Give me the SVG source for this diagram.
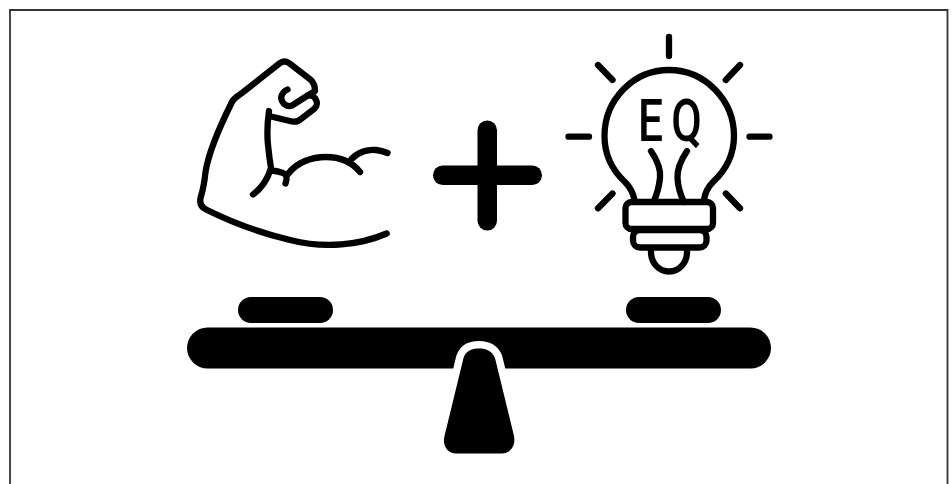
<svg xmlns="http://www.w3.org/2000/svg" width="952" height="484" viewBox="0 0 952 484">
<style>
.l{fill:none;stroke:#000;stroke-width:6.300;stroke-linecap:round;stroke-linejoin:round}
.b{fill:#000}
</style>
<rect width="952" height="484" fill="#fff"/>
<path d="M10 484V10H947.500V484" fill="none" stroke="#333" stroke-width="1.800"/>
<g id="arm" class="l">
<path d="M386.700 233.500C360 245 325 249 290 240C265 234 235 224 206 209.500C201 207 199.500 203 200.500 198C203 190 204.500 182 205.500 172C209 150 222 122 232 102C234 98 238 96 242 93L280 63C283 61 286 61 289 63L311 80C314 83 315 86 315 91L308 95.500C312 95 315 97 316 100C318 104 317 106 314 109L301 119C298 122 295 122 292 121.500L269 116"/>
<path d="M287.500 89.500C282 92 280 97 282 101C284 105 288 107 292 105.500L308.500 95"/>
<path d="M269 111C267 125 267 135 268 145C269 155 270 162 271 168C268 178 262 188 253 194.500"/>
<path d="M271 170.500C277 171 281 172 284 173.500C287 175 287 179 285.500 183.500"/>
<path d="M288 174C297 162 312 157 326 157C340 157 352 162 360 172"/>
<path d="M351.500 159C358 152 368 149 376 150C380 150.500 384 151.500 387.500 153"/>
</g>
<g id="plus" class="b">
<rect x="433" y="165.500" width="109" height="19.500" rx="9.700"/>
<rect x="477.500" y="120.500" width="19.500" height="110" rx="9.700"/>
</g>
<g id="bulb" class="l">
<path d="M669 37V56M568.500 136.700H589M749.500 136.700H769.500M598 65L612.500 80M740 65L725.800 80M612.500 193.500L598 208.300M725.800 193.500L740 208.300"/>
<path d="M634.500 200C633 192 630 187 625 182C611 169 604.500 153 604.500 136C604.500 100 633 70 669 70C705 70 734 100 734 136C734 153 727 169 713 182C708 187 705 192 704 200"/>
<rect x="625.500" y="202" width="87.500" height="27" rx="6"/>
<rect x="633" y="230" width="73.500" height="17.500" rx="7"/>
<path d="M651 248V252C651 263 659 271.500 669 271.500C679 271.500 687 263 687 252V248"/>
<path d="M651 151C657 160 661 170 660 178C659 187 657 194 654 201"/>
<path d="M687 151C681 160 677 170 677.500 178C678 187 680 194 684 202"/>
</g>
<text id="eq" transform="translate(638 140.500) scale(.74 1)" font-family="Roboto, 'Liberation Sans', sans-serif" font-size="60" font-weight="500" letter-spacing="11" fill="#000">EQ</text>
<g id="seesaw">
<rect x="238" y="297" width="95" height="26" rx="13" class="b"/>
<rect x="626" y="297" width="95" height="26" rx="13" class="b"/>
<rect x="187" y="327.500" width="584" height="41" rx="20.500" class="b"/>
<path d="M463.500 358C466 351 471 348.500 479 348.500C487 348.500 492 351 495 358L514 436C516 446 510 453.500 502 453.500H456C448 453.500 442 446 444.500 436Z" fill="#000" stroke="#fff" stroke-width="15" paint-order="stroke" stroke-linejoin="round"/>
</g>
</svg>
